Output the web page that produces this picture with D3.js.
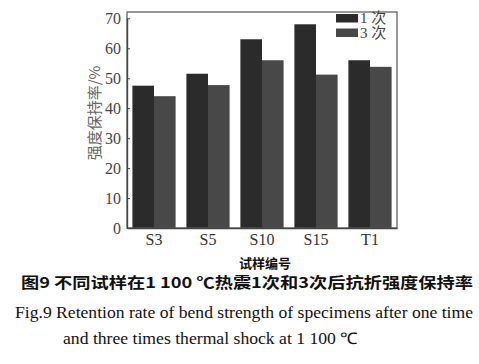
<!DOCTYPE html>
<html><head><meta charset="utf-8">
<script src="https://cdn.jsdelivr.net/npm/d3@7"></script>
<style>
html,body{margin:0;padding:0;background:#fff;}
svg{display:block;}
</style>
</head><body>
<svg id="c" width="479" height="364"></svg>
<script>
const categories = ["S3","S5","S10","S15","T1"];
const seriesNames = ["1 次","3 次"];
const once = [47.5, 51.5, 63, 68, 56];
const thrice = [44, 47.7, 56, 51.2, 53.8];
const yTicks = [0,10,20,30,40,50,60,70];
const colors = ["#2b2b2b","#484848"];

const svg = d3.select("#c");
const m = {left:127, right:397, top:12, bottom:228};
const x = d3.scaleBand().domain(categories).range([m.left, m.right]).paddingInner(0.2).paddingOuter(0.1);
const xs = d3.scaleBand().domain(seriesNames).range([0, x.bandwidth()]);
const y = d3.scaleLinear().domain([0,70]).range([m.bottom, 18.3]);

const data = categories.map((c,i)=>({cat:c, vals:[once[i], thrice[i]]}));

const g = svg.append("g");
g.selectAll("g.grp").data(data).join("g")
  .attr("transform", d=>`translate(${x(d.cat)},0)`)
  .selectAll("rect").data(d=>d.vals.map((v,j)=>({v, s:seriesNames[j], j})))
  .join("rect")
  .attr("x", d=>xs(d.s)).attr("width", xs.bandwidth())
  .attr("y", d=>y(d.v)).attr("height", d=>y(0)-y(d.v))
  .attr("fill", d=>colors[d.j]);

// frame
svg.append("rect").attr("x", m.left).attr("y", m.top).attr("width", m.right-m.left).attr("height", m.bottom-m.top)
  .attr("fill","none").attr("stroke","#555").attr("stroke-width",1.2);

// y axis
const yAxis = d3.axisLeft(y).tickValues(yTicks).tickSizeInner(-3).tickSizeOuter(0).tickPadding(6);
const ya = svg.append("g").attr("transform",`translate(${m.left},0)`).call(yAxis);
ya.select(".domain").attr("stroke","#444").attr("stroke-width",1.4);
ya.selectAll(".tick line").attr("stroke","#444");
ya.selectAll(".tick text").attr("font-family","'Liberation Serif', 'DejaVu Serif', serif").attr("font-size",16).attr("fill","#444");

// x axis
const xAxis = d3.axisBottom(x).tickSize(0).tickPadding(6);
const xa = svg.append("g").attr("transform",`translate(0,${m.bottom})`).call(xAxis);
xa.select(".domain").attr("stroke","#444").attr("stroke-width",1.4);
xa.selectAll(".tick text").attr("font-family","'Liberation Serif', serif").attr("font-size",16).attr("fill","#333");

// y label
svg.append("text").attr("transform","translate(100,113) rotate(-90)")
  .attr("text-anchor","middle").attr("font-family","'Noto Sans CJK SC', sans-serif").attr("font-size",15).attr("fill","#666")
  .text("强度保持率/%");

// legend
const leg = svg.append("g");
seriesNames.forEach((s,i)=>{
  leg.append("rect").attr("x",336).attr("y",14+i*14.5).attr("width",22).attr("height",8.5).attr("fill",colors[i]);
  leg.append("text").attr("x",360).attr("y",23+i*14.5).attr("font-family","'Liberation Serif','Noto Sans CJK SC', serif").attr("font-size",15).attr("fill","#444").text(s);
});

// x title
svg.append("text").attr("x",265).attr("y",268).attr("text-anchor","middle")
  .attr("font-family","'Noto Sans CJK SC', sans-serif").attr("font-weight","bold").attr("font-size",13).attr("fill","#111")
  .text("试样编号");

// caption
svg.append("text").attr("x",247).attr("y",288).attr("text-anchor","middle")
  .attr("font-family","'Noto Sans CJK SC', sans-serif").attr("font-weight","bold").attr("font-size",15).attr("fill","#111")
  .attr("textLength",452).attr("lengthAdjust","spacingAndGlyphs")
  .text("图9 不同试样在1 100 ℃热震1次和3次后抗折强度保持率");
svg.append("text").attr("x",15).attr("y",318)
  .attr("font-family","'Liberation Serif', serif").attr("font-size",16).attr("fill","#111")
  .attr("textLength",458).attr("lengthAdjust","spacingAndGlyphs")
  .text("Fig.9  Retention rate of bend strength of specimens after one time");
svg.append("text").attr("x",63).attr("y",344)
  .attr("font-family","'Liberation Serif', serif").attr("font-size",16).attr("fill","#111")
  .attr("textLength",295).attr("lengthAdjust","spacingAndGlyphs")
  .text("and three times thermal shock at 1 100 ℃");
</script>
</body></html>
